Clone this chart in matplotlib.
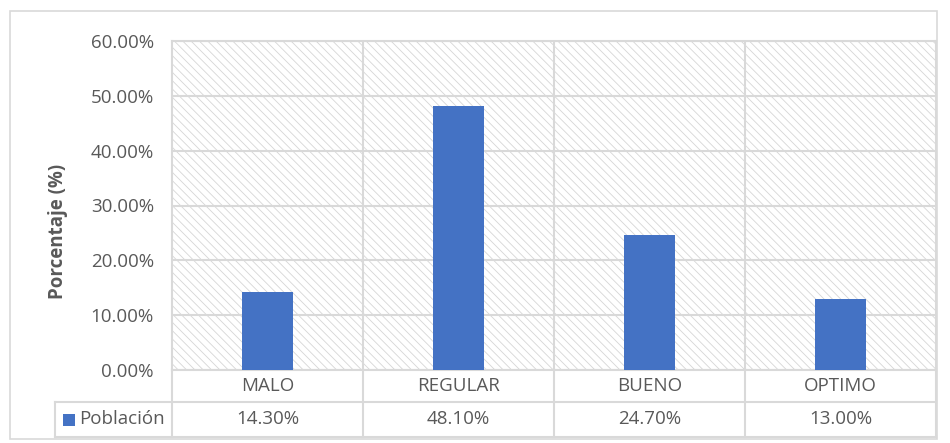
import matplotlib.pyplot as plt
import matplotlib.transforms as mtransforms
from matplotlib.patches import Rectangle
import numpy as np

categories = ["MALO", "REGULAR", "BUENO", "OPTIMO"]
poblacion = [14.30, 48.10, 24.70, 13.00]
series_name = "Población"
yticks = [0, 10, 20, 30, 40, 50, 60]

bar_color = "#4472C4"
grid_color = "#D9D9D9"
text_color = "#595959"

plt.rcParams["font.family"] = ["Open Sans", "DejaVu Sans"]
plt.rcParams["hatch.linewidth"] = 0.6
plt.rcParams["hatch.color"] = "#D6D6D6"

W, H = 950, 443
fig = plt.figure(figsize=(W / 100, H / 100), dpi=100)

# outer frame of the chart
fig.patches.append(Rectangle((10 / W, 1 - 439 / H), 927 / W, 428 / H,
                             transform=fig.transFigure, fill=False,
                             edgecolor=grid_color, linewidth=1.2))

left, right, top, bottom = 172, 936, 41, 370
ax = fig.add_axes([left / W, 1 - bottom / H, (right - left) / W, (bottom - top) / H])

# hatched background
ax.add_patch(Rectangle((0, 0), 1, 1, transform=ax.transAxes, facecolor="white",
                       edgecolor="#D6D6D6", hatch="\\" * 4, linewidth=0, zorder=0))

x = np.arange(len(categories))
ax.bar(x, poblacion, width=0.27, color=bar_color, zorder=3)

fs = 13.5
ax.set_xlim(-0.5, len(categories) - 0.5)
ax.set_ylim(0, 60)
ax.set_yticks(yticks)
ax.set_yticklabels([f"{v:.2f}%" for v in yticks], fontsize=fs, color=text_color)
ax.tick_params(axis="y", length=0, pad=13)
ax.set_xticks([])
ax.set_xticks(x[:-1] + 0.5, minor=True)
ax.tick_params(axis="x", which="both", length=0, labelbottom=False)
ax.grid(axis="y", which="major", color=grid_color, linewidth=1.5, zorder=1)
ax.grid(axis="x", which="minor", color=grid_color, linewidth=1.5, zorder=1)
for s in ax.spines.values():
    s.set_color(grid_color)
    s.set_linewidth(1.5)

fig.text(58 / W, 1 - 231 / H, "Porcentaje (%)", rotation=90, ha="center", va="center",
         fontsize=13.5, fontweight="bold", color=text_color)

# data table below the axis
ph = bottom - top
pw = right - left
row1 = -(402 - bottom) / ph
row2 = -(437 - bottom) / ph
leg_left = -(left - 55) / pw
lkw = dict(color=grid_color, linewidth=1.5, clip_on=False, zorder=1)

ax.plot([leg_left, 1], [row1, row1], transform=ax.transAxes, **lkw)
ax.plot([leg_left, 1], [row2, row2], transform=ax.transAxes, **lkw)
ax.plot([leg_left, leg_left], [row1, row2], transform=ax.transAxes, **lkw)
ax.plot([0, 0], [0, row2], transform=ax.transAxes, **lkw)
ax.plot([1, 1], [0, row2], transform=ax.transAxes, **lkw)

blend = mtransforms.blended_transform_factory(ax.transData, ax.transAxes)
for xb in x[:-1] + 0.5:
    ax.plot([xb, xb], [0, row2], transform=blend, **lkw)

for xi, cat, val in zip(x, categories, poblacion):
    ax.text(xi, row1 / 2, cat, transform=blend, ha="center", va="center",
            fontsize=fs, color=text_color)
    ax.text(xi, (row1 + row2) / 2, f"{val:.2f}%", transform=blend, ha="center",
            va="center", fontsize=fs, color=text_color)

# legend key inside the table
mid = (row1 + row2) / 2
ax.add_patch(Rectangle(((63 - left) / pw, mid - 6 / ph), 12 / pw, 12 / ph,
                       transform=ax.transAxes, facecolor=bar_color, edgecolor="none",
                       clip_on=False))
ax.text((79 - left) / pw, mid, series_name, transform=ax.transAxes,
        ha="left", va="center", fontsize=fs, color=text_color)

fig.savefig("out.png", dpi=100)
